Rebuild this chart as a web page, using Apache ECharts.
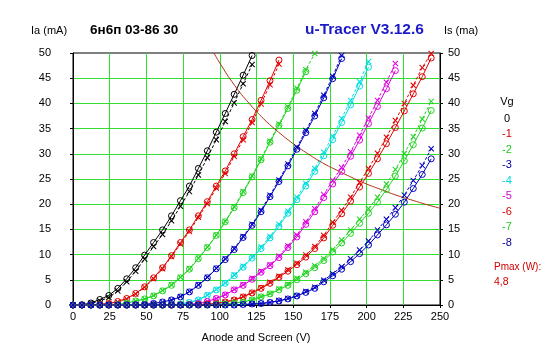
<!DOCTYPE html>
<html><head><meta charset="utf-8">
<script src="https://cdn.jsdelivr.net/npm/echarts@6/dist/echarts.min.js"></script>
<style>html,body{margin:0;padding:0;background:#fff}#c{width:547px;height:357px}</style>
</head><body><div id="c"></div>
<script>
// Anode voltage sweep points (V)
const V = [0,6.1,12.2,18.3,24.4,30.5,36.6,42.7,48.8,54.9,61.0,67.1,73.2,79.3,85.4,91.5,97.6,103.7,109.8,115.9,122.0,128.1,134.2,140.3,146.4,152.5,158.6,164.7,170.8,176.9,183.0,189.1,195.2,201.3,207.4,213.5,219.6,225.7,231.8,237.9,244.0];
const VG = ['0','-1','-2','-3','-4','-5','-6','-7','-8'];
// Ia (circles, solid) and Is (crosses, dashed) in mA, per grid voltage
const IA_0 = [0,0.05,0.4,1.1,1.9,3.3,5.2,7.4,9.9,12.4,14.9,17.7,20.7,23.6,27.1,30.6,34.3,38.0,41.8,45.6,49.5];
const IS_0 = [0,0.03,0.3,0.8,1.5,2.8,4.6,6.7,9.1,11.6,14.0,16.7,19.6,22.5,25.8,29.2,32.8,36.4,40.1,43.9,47.7];
const IA_1 = [0,0,0,0.1,0.3,0.7,1.3,2.3,3.6,5.4,7.4,9.8,12.4,14.9,17.7,20.5,23.6,26.6,30.0,33.4,36.8,40.6,44.5,48.6];
const IS_1 = [0,0,0,0.1,0.3,0.6,1.2,2.2,3.5,5.2,7.2,9.6,12.1,14.6,17.4,20.1,23.2,26.1,29.5,32.8,36.2,39.9,43.7,47.8];
const IA_2 = [0,0,0,0,0,0.1,0.4,0.8,1.2,1.8,2.8,3.9,5.4,7.1,9.2,11.4,13.8,16.5,19.3,22.3,25.4,28.8,32.3,35.6,39.0,42.6,46.3];
const IS_2 = [0,0,0,0,0,0.1,0.4,0.8,1.2,1.9,2.9,4.0,5.5,7.2,9.3,11.5,13.9,16.6,19.5,22.5,25.6,29.0,32.5,35.9,39.3,43.0,46.7,49.9];
const IA_3 = [0,0,0,0,0,0,0,0.05,0.1,0.3,0.6,1.0,1.6,2.6,3.9,5.4,7.2,9.0,11.0,13.4,15.8,18.5,21.5,24.5,27.6,30.9,34.2,37.5,41.1,44.9,48.9];
const IS_3 = [0,0,0,0,0,0,0,0.05,0.1,0.3,0.6,1.0,1.7,2.7,4.0,5.5,7.3,9.2,11.2,13.6,16.0,18.8,21.8,24.8,28.0,31.3,34.6,38.0,41.6,45.4,49.5];
const IA_4 = [0,0,0,0,0,0,0,0,0,0,0,0.05,0.2,0.5,1.0,1.9,3.0,4.3,5.8,7.5,9.3,11.2,13.3,15.6,18.2,20.9,23.6,26.5,29.6,32.8,36.2,39.7,43.4,47.2];
const IS_4 = [0,0,0,0,0,0,0,0,0,0,0,0.05,0.2,0.5,1.0,2.0,3.1,4.4,6.0,7.7,9.5,11.5,13.6,16.0,18.6,21.4,24.1,27.1,30.3,33.5,37.0,40.6,44.3,48.3];
const IA_5 = [0,0,0,0,0,0,0,0,0,0,0,0,0.05,0.1,0.3,0.7,1.3,2.0,3.0,3.9,5.1,6.5,7.8,9.4,11.4,13.5,16.0,18.5,21.3,24.0,26.5,29.5,32.7,36.0,39.4,42.9,46.5];
const IS_5 = [0,0,0,0,0,0,0,0,0,0,0,0,0.05,0.1,0.3,0.7,1.3,2.1,3.1,4.0,5.3,6.7,8.0,9.7,11.7,13.9,16.5,19.1,21.9,24.7,27.3,30.4,33.7,37.1,40.6,44.2,47.9];
const IA_6 = [0,0,0,0,0,0,0,0,0,0,0,0,0,0.05,0.1,0.2,0.3,0.6,1.0,1.6,2.4,3.3,4.3,5.5,6.7,8.0,9.5,11.2,13.3,15.8,18.1,20.6,23.4,26.1,29.0,32.0,35.2,38.5,41.9,45.3,49.0];
const IS_6 = [0,0,0,0,0,0,0,0,0,0,0,0,0,0.05,0.1,0.2,0.3,0.6,1.0,1.7,2.5,3.4,4.5,5.7,7.0,8.3,9.9,11.6,13.8,16.4,18.8,21.4,24.3,27.1,30.1,33.3,36.6,40.0,43.6,47.1,49.9];
const IA_7 = [0,0,0,0,0,0,0,0,0,0,0,0,0,0,0,0,0.1,0.2,0.4,0.6,1.0,1.6,2.2,3.0,3.9,5.0,6.2,7.4,8.8,10.5,12.3,14.2,16.2,18.2,20.4,22.9,25.6,28.6,31.8,35.1,38.6];
const IS_7 = [0,0,0,0,0,0,0,0,0,0,0,0,0,0,0,0,0.1,0.2,0.4,0.6,1.1,1.7,2.3,3.2,4.1,5.3,6.5,7.8,9.2,11.0,12.9,14.9,17.0,19.1,21.4,24.0,26.9,30.0,33.4,36.9,40.4];
const IA_8 = [0,0,0,0,0,0,0,0,0,0,0,0,0,0,0,0,0,0,0,0.1,0.2,0.3,0.5,0.8,1.2,1.8,2.5,3.3,4.6,5.8,7.1,8.6,10.2,11.9,13.9,15.9,18.0,20.4,23.1,25.9,29.0];
const IS_8 = [0,0,0,0,0,0,0,0,0,0,0,0,0,0,0,0,0,0,0,0.1,0.2,0.3,0.5,0.9,1.3,1.9,2.7,3.5,4.9,6.2,7.6,9.2,10.9,12.7,14.9,17.0,19.3,21.8,24.7,27.7,31.0];
// Pmax hyperbola (4,8 W)
const PMAX_V = [96,100,110,120,130,140,150,160,170,180,190,200,210,220,230,240,250];
const PMAX_I = [50,48,43.6,40,36.9,34.3,32,30,28.2,26.7,25.3,24,22.9,21.8,20.9,20,19.2];
const PMAX_LABEL = '4,8';

const IA = [IA_0,IA_1,IA_2,IA_3,IA_4,IA_5,IA_6,IA_7,IA_8];
const IS = [IS_0,IS_1,IS_2,IS_3,IS_4,IS_5,IS_6,IS_7,IS_8];
const COLORS = ['#000000','#e00000','#22d422','#0000c0','#00dede','#e000e0','#e00000','#22d422','#0000c0'];
const LEG_COLORS = ['#000000','#d00000','#22c822','#000090','#00d8d8','#d000d0','#d00000','#22c822','#000090'];
const FONT = 'Liberation Sans, Arial, sans-serif';
const XSYM = 'path://M0,1.2L1.2,0L5,3.8L8.8,0L10,1.2L6.2,5L10,8.8L8.8,10L5,6.2L1.2,10L0,8.8L3.8,5Z';

const series = [];
IA.forEach((arr, k) => {
  const col = COLORS[k];
  series.push({
    type: 'line', name: 'Ia ' + VG[k], yAxisIndex: 0,
    data: arr.map((v, i) => [V[i], v]),
    symbol: 'circle', symbolSize: 6,
    itemStyle: {color: 'rgba(0,0,0,0)', borderColor: col, borderWidth: 1},
    lineStyle: {color: col, width: 1},
    animation: false, silent: true
  });
  series.push({
    type: 'line', name: 'Is ' + VG[k], yAxisIndex: 1,
    data: IS[k].map((v, i) => [V[i], v]),
    symbol: XSYM, symbolSize: 6,
    itemStyle: {color: col, borderWidth: 0},
    lineStyle: {color: col, width: 1, type: [3, 2]},
    animation: false, silent: true
  });
});
series.push({
  type: 'line', name: 'Pmax', data: PMAX_V.map((v, i) => [v, PMAX_I[i]]),
  symbol: 'none', smooth: true, lineStyle: {color: '#b03010', width: 1}, animation: false, silent: true
});

const graphics = [
  {type: 'text', left: 31, top: 25, style: {text: 'Ia (mA)', font: '11px ' + FONT, fill: '#000'}},
  {type: 'text', left: 90, top: 23, style: {text: '6н6п 03-86 30', font: 'bold 13.5px ' + FONT, fill: '#000'}},
  {type: 'text', left: 305, top: 22, style: {text: 'u-Tracer V3.12.6', font: 'bold 15.5px ' + FONT, fill: '#1a1ac8'}},
  {type: 'text', left: 444, top: 25, style: {text: 'Is (ma)', font: '11px ' + FONT, fill: '#000'}},
  {type: 'text', x: 256, y: 338, style: {text: 'Anode and Screen (V)', font: '11px ' + FONT, fill: '#000', textAlign: 'center', textVerticalAlign: 'middle'}},
  {type: 'text', x: 507, y: 102, style: {text: 'Vg', font: '11px ' + FONT, fill: '#000', textAlign: 'center', textVerticalAlign: 'middle'}},
  {type: 'text', x: 494, y: 267, style: {text: 'Pmax (W):', font: '10px ' + FONT, fill: '#d00000', textVerticalAlign: 'middle'}},
  {type: 'text', x: 494, y: 282, style: {text: PMAX_LABEL, font: '10.5px ' + FONT, fill: '#d00000', textVerticalAlign: 'middle'}}
];
VG.forEach((t, k) => {
  graphics.push({type: 'text', x: 507, y: 118.5 + k * 15.5, style: {text: t, font: '11px ' + FONT, fill: LEG_COLORS[k], textAlign: 'center', textVerticalAlign: 'middle'}});
});

const axisCommon = {
  type: 'value', min: 0, max: 50, interval: 5,
  axisLine: {show: true, lineStyle: {color: '#000', width: 1}},
  axisTick: {show: true, length: 3, lineStyle: {color: '#000'}},
};
const chart = echarts.init(document.getElementById('c'), null, {renderer: 'canvas'});
chart.setOption({
  backgroundColor: '#fff',
  animation: false,
  grid: {left: 73, right: 107, top: 53, bottom: 52, show: true, borderColor: '#000', borderWidth: 1, backgroundColor: 'rgba(0,0,0,0)'},
  xAxis: {
    type: 'value', min: 0, max: 250, interval: 25,
    axisLine: {show: true, onZero: false, lineStyle: {color: '#000', width: 1}},
    axisTick: {show: true, length: 3, lineStyle: {color: '#000'}},
    axisLabel: {color: '#000', fontSize: 11, fontFamily: FONT, margin: 6},
    splitLine: {show: true, showMinLine: false, showMaxLine: false, lineStyle: {color: '#33dd33', width: 1}}
  },
  yAxis: [
    Object.assign({}, axisCommon, {position: 'left',
      axisLabel: {color: '#000', fontSize: 11, fontFamily: FONT, margin: 22},
      splitLine: {show: true, showMinLine: false, showMaxLine: false, lineStyle: {color: '#33dd33', width: 1}}}),
    Object.assign({}, axisCommon, {position: 'right',
      axisLabel: {color: '#000', fontSize: 11, fontFamily: FONT, margin: 8},
      splitLine: {show: false}})
  ],
  series: series,
  graphic: graphics
});
</script></body></html>
